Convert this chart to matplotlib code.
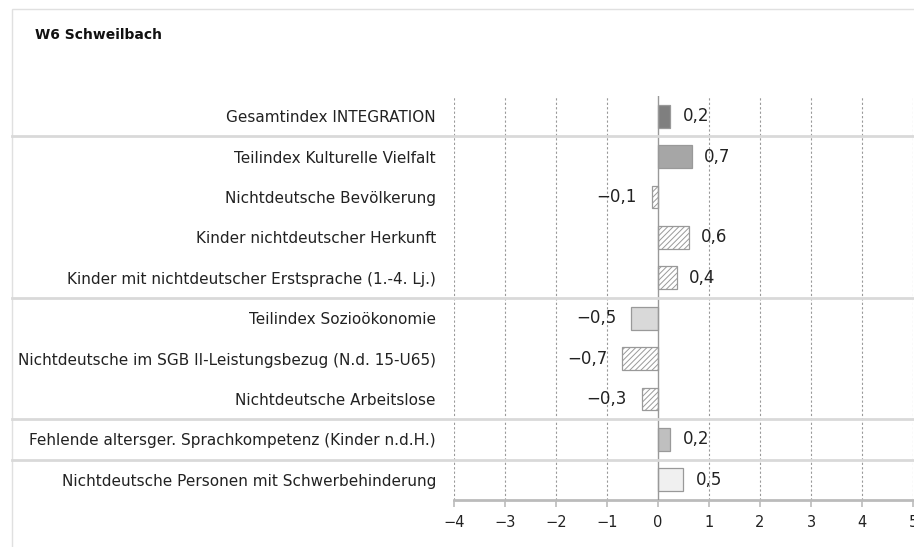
import matplotlib
matplotlib.use("Agg")
import matplotlib.pyplot as plt
from matplotlib.transforms import blended_transform_factory
from matplotlib.lines import Line2D
from matplotlib.patches import Rectangle

# data
categories = [
    "Gesamtindex INTEGRATION",
    "Teilindex Kulturelle Vielfalt",
    "Nichtdeutsche Bevölkerung",
    "Kinder nichtdeutscher Herkunft",
    "Kinder mit nichtdeutscher Erstsprache (1.-4. Lj.)",
    "Teilindex Sozioökonomie",
    "Nichtdeutsche im SGB II-Leistungsbezug (N.d. 15-U65)",
    "Nichtdeutsche Arbeitslose",
    "Fehlende altersger. Sprachkompetenz (Kinder n.d.H.)",
    "Nichtdeutsche Personen mit Schwerbehinderung",
]
values = [0.24, 0.66, -0.11, 0.60, 0.37, -0.52, -0.70, -0.31, 0.24, 0.49]
value_labels = ["0,2", "0,7", "\u22120,1", "0,6", "0,4", "\u22120,5", "\u22120,7", "\u22120,3", "0,2", "0,5"]
fills = ["#7f7f7f", "#a6a6a6", "white", "white", "white", "#d9d9d9", "white", "white", "#bfbfbf", "#f0f0f0"]
hatches = [None, None, "//////", "//////", "//////", None, "//////", "//////", None, None]
separators_after = [0, 4, 7, 8]
xticks = [-4, -3, -2, -1, 0, 1, 2, 3, 4, 5]

plt.rcParams['hatch.color'] = '#707070'
plt.rcParams['hatch.linewidth'] = 0.7

fig = plt.figure(figsize=(9.14, 5.47), dpi=100)
ax = fig.add_axes([454 / 914, 1 - 500 / 547, 459 / 914, 404 / 547])

# outer frame
fig.add_artist(Rectangle((12 / 914, -0.1), 1.0, 1 - 9 / 547 + 0.1, transform=fig.transFigure,
                         fill=False, edgecolor="#e0e0e0", linewidth=1))

fig.text(35 / 914, 1 - 35 / 547, "W6 Schweilbach", fontsize=10, fontweight="bold",
         va="center", ha="left", color="#111111")

n = len(categories)
ypos = list(range(n))

# grid
for t in xticks:
    if t == 0:
        continue
    ax.axvline(t, color="#999999", linestyle=(0, (2, 2)), linewidth=0.8, zorder=0)
ax.axvline(0, color="#999999", linewidth=1, zorder=3)

for i in range(n):
    ax.barh(ypos[i], values[i], height=0.56, color=fills[i], edgecolor="#999999",
            linewidth=0.9, hatch=hatches[i], zorder=2)
    if values[i] >= 0:
        ax.annotate(value_labels[i], (values[i], ypos[i]), xytext=(9, 0), textcoords="offset points",
                    ha="left", va="center", fontsize=12, color="#222222")
    else:
        ax.annotate(value_labels[i], (values[i], ypos[i]), xytext=(-11, 0), textcoords="offset points",
                    ha="right", va="center", fontsize=12, color="#222222")

# group separators across the whole figure width
tr = blended_transform_factory(fig.transFigure, ax.transData)
for s in separators_after:
    fig.add_artist(Line2D([12 / 914, 1.0], [s + 0.5, s + 0.5], transform=tr,
                          color="#d9d9d9", linewidth=2))

ax.set_xlim(-4, 5)
ax.set_ylim(n - 0.5, -0.5)
ax.set_xticks(xticks)
ax.set_xticklabels([str(t).replace("-", "\u2212") for t in xticks], fontsize=10.5, color="#222222")
ax.set_yticks(ypos)
ax.set_yticklabels(categories, fontsize=11, color="#222222")
ax.tick_params(axis="y", length=0, pad=13)
ax.tick_params(axis="x", length=5, width=1.2, color="#bbbbbb", pad=6)

for side in ["top", "right", "left"]:
    ax.spines[side].set_visible(False)
ax.spines["bottom"].set_color("#bbbbbb")
ax.spines["bottom"].set_linewidth(2)

fig.savefig("out.png", dpi=100)
